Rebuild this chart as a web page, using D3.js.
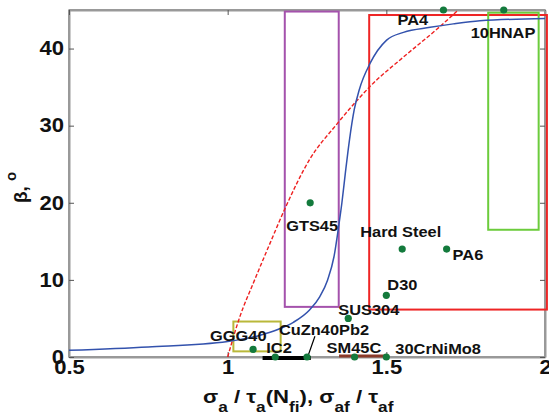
<!DOCTYPE html>
<html>
<head>
<meta charset="utf-8">
<script src="https://cdn.jsdelivr.net/npm/d3@7"></script>
<style>
  body { margin: 0; background: #fff; }
  svg text { font-family: "Liberation Sans", Arial, sans-serif; font-weight: bold; fill: #111; }
</style>
</head>
<body>
<div id="chart"></div>
<script>
// material points
var names   = ["PA4", "10HNAP", "GTS45", "Hard Steel", "PA6", "D30", "SUS304", "GGG40", "IC2", "CuZn40Pb2", "SM45C", "30CrNiMo8"];
var ratio   = [1.68, 1.87, 1.26, 1.55, 1.69, 1.50, 1.38, 1.08, 1.15, 1.25, 1.40, 1.50];
var beta    = [45, 45, 20, 14, 14, 8, 5, 1, 0, 0, 0, 0];

// blue fitted curve
var fitX = [0.5, 0.75, 1.0, 1.1, 1.16, 1.207, 1.258, 1.29, 1.315, 1.335, 1.35, 1.36, 1.371, 1.384, 1.399, 1.415, 1.449, 1.501, 1.554, 1.638, 1.711, 1.795, 2.0];
var fitY = [0.86, 1.3, 2.0, 2.8, 3.6, 4.5, 6.1, 7.8, 10, 13, 17, 20, 23.9, 28.2, 32.1, 34.7, 38.1, 41.1, 42.1, 42.75, 43.2, 43.6, 43.9];

// red dashed curve
var dashX = [1.0, 1.039, 1.081, 1.134, 1.179, 1.258, 1.342, 1.415, 1.449, 1.554, 1.659, 1.727];
var dashY = [0, 5.3, 9.6, 14.8, 19.1, 25.6, 30.1, 33.6, 35.1, 38.9, 42.5, 45];

// range boxes  [x0, x1, y0, y1]
var boxes = [
  [1.18, 1.35, 6.5, 44.8],
  [1.446, 2.006, 6.15, 44.35],
  [1.821, 1.98, 16.5, 44.65],
  [1.018, 1.167, 0.73, 4.6]
];
var boxColors = ["#a452ac", "#ee2525", "#6ccc3c", "#b9b83a"];

// ranges along the axis
var segX0 = [1.11, 1.351];
var segX1 = [1.262, 1.499];

var xTicks = [0.5, 1, 1.5, 2];
var yTicks = [0, 10, 20, 30, 40];

var W = 549, H = 420;
var margin = {left: 69, right: 4, top: 10, bottom: 63};

var svg = d3.select("#chart").append("svg")
  .attr("width", W)
  .attr("height", H);

var x = d3.scaleLinear().domain([0.5, 2]).range([margin.left, W - margin.right]);
var y = d3.scaleLinear().domain([0, 45]).range([H - margin.bottom, margin.top]);

// the picture is a bit wider than tall, so stretch texts sideways
function stretch(sel, k){
  sel.each(function(){
    var w = this.getComputedTextLength();
    this.setAttribute("textLength", w * (k || 1.13));
    this.setAttribute("lengthAdjust", "spacingAndGlyphs");
  });
}

// frame
svg.append("rect")
  .attr("x", x(0.5)).attr("y", y(45))
  .attr("width", x(2) - x(0.5)).attr("height", y(0) - y(45))
  .attr("fill", "none").attr("stroke", "#333").attr("stroke-width", 1);

// axes
var xAxis = svg.append("g")
  .attr("transform", "translate(0," + y(0) + ")")
  .call(d3.axisBottom(x).tickValues(xTicks).tickSizeInner(-5).tickSizeOuter(0).tickPadding(3)
        .tickFormat(function(d){ return d; }));
var yAxis = svg.append("g")
  .attr("transform", "translate(" + x(0.5) + ",0)")
  .call(d3.axisLeft(y).tickValues(yTicks).tickSizeInner(-5).tickSizeOuter(0).tickPadding(5));
// mirrored ticks on top and right
svg.append("g")
  .attr("transform", "translate(0," + y(45) + ")")
  .call(d3.axisTop(x).tickValues(xTicks).tickSizeInner(-5).tickSizeOuter(0).tickFormat(""));
svg.append("g")
  .attr("transform", "translate(" + x(2) + ",0)")
  .call(d3.axisRight(y).tickValues(yTicks).tickSizeInner(-5).tickSizeOuter(0).tickFormat(""));

svg.selectAll(".domain").attr("stroke", "#999").attr("stroke-width", 2);
svg.selectAll(".tick line").attr("stroke", "#555");
xAxis.selectAll("text").style("font-size", "19.5px").call(stretch);
yAxis.selectAll("text").style("font-size", "19.5px").call(stretch);

// boxes
boxes.forEach(function(b, i){
  svg.append("rect")
    .attr("x", x(b[0])).attr("y", y(b[3]))
    .attr("width", x(b[1]) - x(b[0])).attr("height", y(b[2]) - y(b[3]))
    .attr("fill", "none")
    .attr("stroke", boxColors[i])
    .attr("stroke-width", 2);
});

// curves
var line = d3.line()
  .x(function(d){ return x(d[0]); })
  .y(function(d){ return y(d[1]); })
  .curve(d3.curveMonotoneX);

svg.append("path")
  .datum(dashX.map(function(v, i){ return [v, dashY[i]]; }))
  .attr("d", line)
  .attr("fill", "none")
  .attr("stroke", "#ee2020")
  .attr("stroke-width", 1.4)
  .attr("stroke-dasharray", "4,2");

svg.append("path")
  .datum(fitX.map(function(v, i){ return [v, fitY[i]]; }))
  .attr("d", line)
  .attr("fill", "none")
  .attr("stroke", "#3352ad")
  .attr("stroke-width", 1.5);

// axis ranges
svg.append("line")
  .attr("x1", x(segX0[0])).attr("x2", x(segX1[0]))
  .attr("y1", y(0) + 1).attr("y2", y(0) + 1)
  .attr("stroke", "#000").attr("stroke-width", 4);
svg.append("line")
  .attr("x1", x(segX0[1])).attr("x2", x(segX1[1]))
  .attr("y1", y(0) - 1).attr("y2", y(0) - 1)
  .attr("stroke", "#8b3a2a").attr("stroke-width", 3);

// leader for CuZn40Pb2
svg.append("line")
  .attr("x1", x(1.275)).attr("y1", y(2.7))
  .attr("x2", x(1.252)).attr("y2", y(0))
  .attr("stroke", "#000").attr("stroke-width", 1.2);

// points
var pts = names.map(function(n, i){ return {name: n, x: ratio[i], y: beta[i]}; });
svg.selectAll("circle.pt")
  .data(pts)
  .enter()
  .append("circle")
  .attr("class", "pt")
  .attr("cx", function(d){ return x(d.x); })
  .attr("cy", function(d){ return y(d.y); })
  .attr("r", 3.6)
  .attr("fill", "#137a3c");

// label offsets in pixels from each point
var labelOffset = {
  "PA4": [-46, 15], "10HNAP": [-33, 28], "GTS45": [-24, 28], "Hard Steel": [-42, -12],
  "PA6": [6, 11], "D30": [1, -5], "SUS304": [-10, -3], "GGG40": [-43, -8],
  "IC2": [-9, -4], "CuZn40Pb2": [-28, -22], "SM45C": [-28, -4], "30CrNiMo8": [9, -3]
};
svg.selectAll("text.lbl")
  .data(pts)
  .enter()
  .append("text")
  .attr("class", "lbl")
  .attr("x", function(d){ return x(d.x) + labelOffset[d.name][0]; })
  .attr("y", function(d){ return y(d.y) + labelOffset[d.name][1]; })
  .style("font-size", "14.5px")
  .text(function(d){ return d.name; })
  .call(stretch);

// axis titles
var xt = svg.append("text")
  .attr("x", 203).attr("y", 403)
  .style("font-size", "18px");
xt.append("tspan").text("\u03c3");
xt.append("tspan").attr("dy", 9).style("font-size", "14px").text("a");
xt.append("tspan").attr("dy", -9).text(" / \u03c4");
xt.append("tspan").attr("dy", 9).style("font-size", "14px").text("a");
xt.append("tspan").attr("dy", -9).text("(N");
xt.append("tspan").attr("dy", 9).style("font-size", "14px").text("fi");
xt.append("tspan").attr("dy", -9).text("), \u03c3");
xt.append("tspan").attr("dy", 9).style("font-size", "14px").text("af");
xt.append("tspan").attr("dy", -9).text(" / \u03c4");
xt.append("tspan").attr("dy", 9).style("font-size", "14px").text("af");
xt.call(stretch, 1.23);

var yt = svg.append("text")
  .attr("transform", "translate(27,203) rotate(-90)")
  .style("font-size", "19px");
yt.append("tspan").text("\u03b2,");
yt.append("tspan").attr("dx", 5).attr("dy", -11).style("font-size", "15px").text("o");
</script>
</body>
</html>
